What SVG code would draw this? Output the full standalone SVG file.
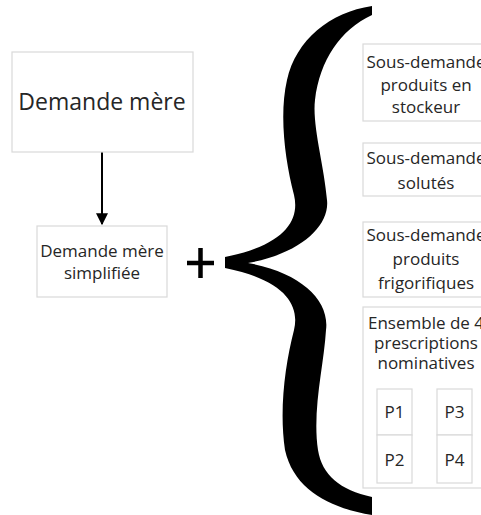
<svg xmlns="http://www.w3.org/2000/svg" width="481" height="515" viewBox="0 0 481 515">
<defs>
<style>
.box{fill:#fff;stroke:#d9d9d9;stroke-width:1.2}
.t{font-family:"Open Sans","Noto Sans",sans-serif;fill:#262626;text-anchor:middle}
.s17{font-size:17px}
.s23{font-size:23px}
</style>
<marker id="ah" viewBox="0 0 10 10" refX="9" refY="5" markerWidth="6" markerHeight="6" orient="auto" markerUnits="strokeWidth">
<path d="M0,0 L10,5 L0,10 Z" fill="#000"/>
</marker>
</defs>
<rect width="481" height="515" fill="#fff"/>
<g id="connectors">
<line x1="102" y1="152" x2="102" y2="224" stroke="#000" stroke-width="2" marker-end="url(#ah)"/>
</g>
<g id="mere">
<rect class="box" x="12" y="52" width="181" height="100"/>
<text class="t s23" x="102" y="110">Demande mère</text>
</g>
<g id="simplifiee">
<rect class="box" x="37" y="226" width="130" height="71"/>
<text class="t s17" x="102" y="257">Demande mère</text>
<text class="t s17" x="102" y="279">simplifiée</text>
</g>
<g id="plus">
<path d="M187,263 H214 M200.5,248 V278" stroke="#000" stroke-width="4.5" fill="none"/>
</g>
<g id="brace">
<path fill="#000" d="M372,6 C330,12 296,40 287,80 C279,115 285,160 294,195 C300,220 285,245 225,257 L225,268 C285,280 300,305 294,330 C285,365 279,410 285,450 C294,490 330,508 372,515 L372,497 C340,490 322,475 318,450 C312,410 324,365 326,330 C330,300 300,272 248,263 C300,254 330,226 327,200 C324,165 312,125 315,100 C320,60 340,30 372,15 Z"/>
</g>
<g id="stockeur">
<rect class="box" x="363" y="44" width="126" height="77"/>
<text class="t s17" x="426" y="68">Sous-demande</text>
<text class="t s17" x="426" y="91">produits en</text>
<text class="t s17" x="426" y="113">stockeur</text>
</g>
<g id="solutes">
<rect class="box" x="363" y="143" width="126" height="53"/>
<text class="t s17" x="426" y="164">Sous-demande</text>
<text class="t s17" x="426" y="189">solutés</text>
</g>
<g id="frigorifiques">
<rect class="box" x="363" y="222" width="126" height="75"/>
<text class="t s17" x="426" y="241">Sous-demande</text>
<text class="t s17" x="426" y="265">produits</text>
<text class="t s17" x="426" y="289">frigorifiques</text>
</g>
<g id="ensemble">
<rect class="box" x="363" y="307" width="126" height="181"/>
<text class="t s17" x="426" y="329">Ensemble de 4</text>
<text class="t s17" x="426" y="349">prescriptions</text>
<text class="t s17" x="426" y="369">nominatives</text>
</g>
<g id="p1">
<rect class="box" x="377" y="389" width="35" height="46"/>
<text class="t s17" x="394.5" y="418">P1</text>
</g>
<g id="p2">
<rect class="box" x="377" y="435" width="35" height="48"/>
<text class="t s17" x="394.5" y="466">P2</text>
</g>
<g id="p3">
<rect class="box" x="437" y="389" width="35" height="46"/>
<text class="t s17" x="454.5" y="418">P3</text>
</g>
<g id="p4">
<rect class="box" x="437" y="435" width="35" height="48"/>
<text class="t s17" x="454.5" y="466">P4</text>
</g>
</svg>
